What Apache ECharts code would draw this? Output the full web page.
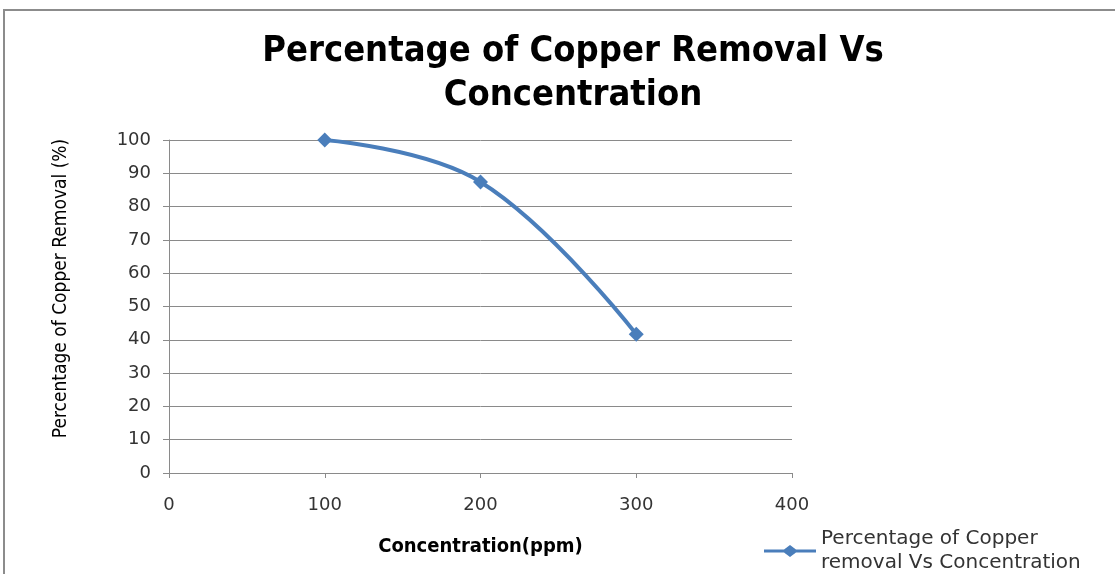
<!DOCTYPE html>
<html><head><meta charset="utf-8">
<script src="https://cdn.jsdelivr.net/npm/echarts@6/dist/echarts.min.js"></script>
<style>html,body{margin:0;padding:0;background:#fff}#c{width:1115px;height:574px}</style>
</head><body><div id="c"></div>
<script>
const concentration = [100, 200, 300];
const removal = [100, 87.4, 41.7];
const seriesName = 'Percentage of Copper\nremoval Vs Concentration';
const titleText = 'Percentage of Copper Removal Vs\nConcentration';

const chart = echarts.init(document.getElementById('c'), null, {renderer:'canvas'});
const gray = '#8a8a8a';
chart.setOption({
  animation:false,
  backgroundColor:'#fff',
  graphic:[{type:'rect', shape:{x:4,y:10,width:1200,height:700}, style:{fill:'none', stroke:'#8c8c8c', lineWidth:2}, z:-1}],
  title:{text:titleText, left:568, top:25, textAlign:'center',
    textStyle:{fontFamily:'DejaVu Sans Condensed', fontWeight:'bold', fontSize:36, lineHeight:44, color:'#000'}},
  grid:{left:169, top:140, width:623, height:333, containLabel:false},
  legend:{orient:'vertical', left:759, top:522, itemWidth:52, itemHeight:12, itemGap:4,
    textStyle:{fontFamily:'DejaVu Sans', fontSize:20, lineHeight:24, color:'#333'},
    data:[{name:seriesName, icon:'path://M0,4.5 L20,4.5 L26,0 L32,4.5 L52,4.5 L52,7.5 L32,7.5 L26,12 L20,7.5 L0,7.5 Z'}]},
  xAxis:{type:'value', min:0, max:400, interval:100,
    name:'Concentration(ppm)', nameLocation:'middle', nameGap:64,
    nameTextStyle:{fontFamily:'DejaVu Sans Condensed', fontWeight:'bold', fontSize:20, color:'#000'},
    axisLine:{show:true, onZero:false, lineStyle:{color:gray,width:1}},
    axisTick:{show:true, length:5, lineStyle:{color:gray}},
    splitLine:{show:false},
    axisLabel:{fontFamily:'DejaVu Sans', fontSize:18, color:'#333', margin:23}},
  yAxis:{type:'value', min:0, max:100, interval:10,
    name:'Percentage of Copper Removal (%)', nameLocation:'middle', nameGap:98, nameRotate:90,
    nameTextStyle:{fontFamily:'DejaVu Sans Condensed', fontSize:19, color:'#000', padding:[0,0,0,36]},
    axisLine:{show:true, lineStyle:{color:gray,width:1}},
    axisTick:{show:true, length:6, lineStyle:{color:gray}},
    splitLine:{show:true, lineStyle:{color:gray,width:1}},
    axisLabel:{fontFamily:'DejaVu Sans', fontSize:18, color:'#333', margin:18}},
  series:[{name:seriesName, type:'line', smooth:0.4,
    data: concentration.map((x,i)=>[x, removal[i]]),
    symbol:'diamond', symbolSize:15,
    lineStyle:{color:'#4a7ebb', width:4},
    itemStyle:{color:'#4a7ebb'}}]
});
</script></body></html>
